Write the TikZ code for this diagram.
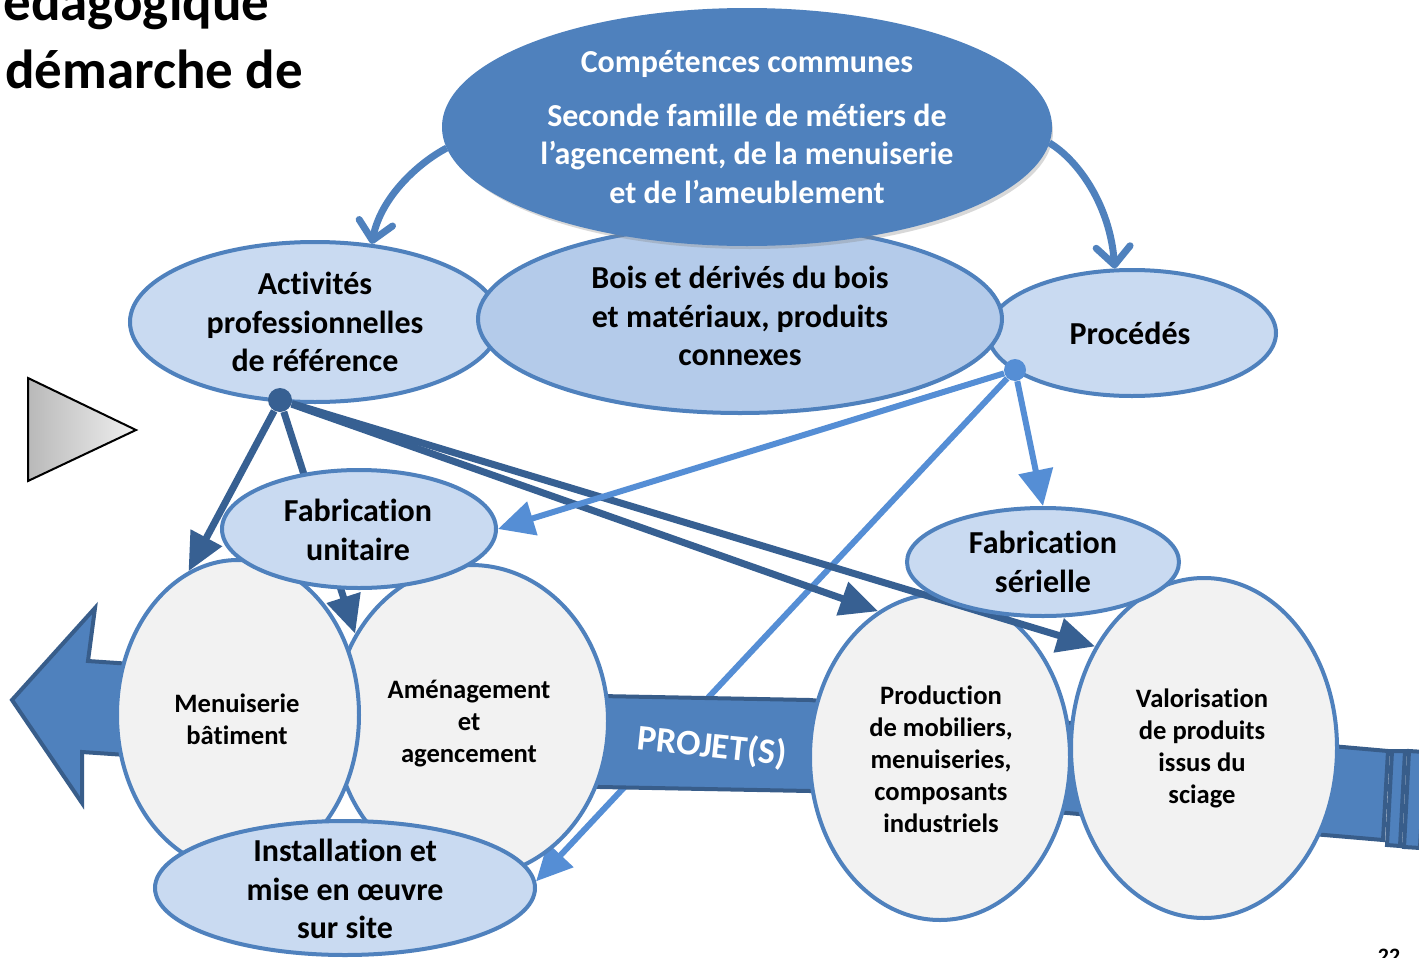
\documentclass[tikz,border=0pt]{standalone}
\usepackage{fontspec}
\setmainfont{Carlito}[Ligatures=NoCommon]
\usepackage{tikz}
\usetikzlibrary{arrows.meta,shapes.geometric,shadows}
\definecolor{AgcBlue}{HTML}{4F81BD}
\definecolor{AgcEdge}{HTML}{385D8A}
\definecolor{AgcDark}{HTML}{376092}
\definecolor{AgcLight}{HTML}{558ED5}
\definecolor{AgcPale}{HTML}{C9DAF1}
\definecolor{AgcMid}{HTML}{B4CBEA}
\definecolor{AgcGrey}{HTML}{F2F2F2}
\pgfdeclarelayer{bg}
\pgfsetlayers{bg,main}

\begin{document}
\begin{tikzpicture}[
      x=0.5pt,y=-0.5pt,
      >={Triangle[length=19pt,width=17pt]},
      coreell/.style={ellipse,draw=AgcBlue,fill=AgcBlue,line width=2pt,inner sep=0pt},
      paleell/.style={ellipse,draw=AgcBlue,fill=AgcPale,line width=2pt,inner sep=0pt},
      greyell/.style={ellipse,draw=AgcBlue,fill=AgcGrey,line width=2pt,inner sep=0pt},
      bigtxt/.style={font=\bfseries\fontsize{16}{19.3}\selectfont,align=center},
      smalltxt/.style={font=\bfseries\fontsize{13.3}{16}\selectfont,align=center},
      hub/.style={circle,inner sep=0pt,minimum size=11pt},
      darkarr/.style={->,line width=3.5pt,draw=AgcDark},
      lightarr/.style={-{Triangle[length=18pt,width=17pt]},line width=3pt,draw=AgcLight},
      bendarr/.style={-{Straight Barb[length=9pt,width=17pt,round]},line width=3.5pt,draw=AgcBlue},
      bandline/.style={fill=AgcBlue,draw=AgcEdge,line width=2pt}
    ]
    \begin{pgfonlayer}{bg}
      \fill[white] (0,0) rectangle (1419,958);
    \end{pgfonlayer}
    \path[use as bounding box] (0,0) rectangle (1419,958);

    \node[font=\bfseries\fontsize{27.5}{33}\selectfont,anchor=base west,inner sep=0pt]
      (title1) at (3,20) {édagogique};
    \node[font=\bfseries\fontsize{27.5}{33}\selectfont,anchor=base west,inner sep=0pt]
      (title2) at (5,88) {démarche de};
    \draw[line width=1pt,left color=gray!55,right color=gray!12]
      (28,378) -- (136,430) -- (28,481) -- cycle;

    \draw[bandline,line join=miter] (12,700) -- (95,608) -- (88,661) -- (600,696)
      -- (810,700) -- (1388,751) -- (1383,840) -- (810,791) -- (600,787)
      -- (82,752) -- (82,803) -- cycle;
    \draw[bandline] (1392,751) -- (1405,751) -- (1400,846) -- (1387,845) -- cycle;
    \draw[bandline] (1409,751) -- (1425,752) -- (1420,848) -- (1404,847) -- cycle;
    \node[rotate=-6,text=white,font=\bfseries\fontsize{18}{22}\selectfont]
      (projet) at (712,747) {PROJET(S)};

    \node[paleell,minimum width=185pt,minimum height=80pt] (act) at (315,322) {};
    \node[bigtxt] (actT) at (act) {Activités\\professionnelles\\de référence};
    \node[paleell,minimum width=144pt,minimum height=63pt] (proc) at (1132,333) {};
    \node[bigtxt] (procT) at (1130,333) {Procédés};
    \node[paleell,fill=AgcMid,minimum width=262pt,minimum height=94pt] (bois) at (740,319) {};
    \node[bigtxt] (boisT) at (740,316) {Bois et dérivés du bois\\et matériaux, produits\\connexes};
    \node[coreell,drop shadow={opacity=0.3,shadow xshift=1.5pt,shadow yshift=-2.5pt},
      minimum width=303pt,minimum height=117pt] (core) at (747,127) {};
    \node[bigtxt,text=white] (coreT) at (core)
      {Compétences communes\\[7.5pt]Seconde famille de métiers de\\l’agencement, de la menuiserie\\et de l’ameublement};

    \node[greyell,minimum width=137pt,minimum height=156pt] (amen) at (471,721) {};
    \node[smalltxt] (amenT) at (469,724) {Aménagement\\et\\agencement};
    \node[greyell,minimum width=121pt,minimum height=155pt] (menu) at (238,715) {};
    \node[smalltxt] (menuT) at (237,719) {Menuiserie\\bâtiment};
    \node[greyell,minimum width=130pt,minimum height=163pt] (prod) at (940,757) {};
    \node[smalltxt] (prodT) at (941,759) {Production\\de mobiliers,\\menuiseries,\\composants\\industriels};
    \node[greyell,minimum width=133pt,minimum height=170pt] (valo) at (1204,748) {};
    \node[smalltxt] (valoT) at (1202,748) {Valorisation\\de produits\\issus du\\sciage};

    \node[hub,fill=AgcDark,minimum size=12pt] (hubA) at (280,400) {};
    \node[hub,fill=AgcLight] (hubP) at (1015,370) {};

    \draw[darkarr] (hubA) -- (menu.109);
    \draw[darkarr] (hubA) -- (amen.143);
    \draw[darkarr] (hubA) -- (prod.113);
    \draw[darkarr] (hubA) -- (valo.137);

    \node[paleell,minimum width=137pt,minimum height=59pt] (fabu) at (359,529) {};
    \node[bigtxt] (fabuT) at (358,530) {Fabrication\\unitaire};
    \node[paleell,minimum width=136pt,minimum height=54pt] (fabs) at (1043,562) {};
    \node[bigtxt] (fabsT) at (fabs) {Fabrication\\sérielle};
    \node[paleell,minimum width=190pt,minimum height=67pt] (inst) at (345,888) {};
    \node[bigtxt] (instT) at (345,889) {Installation et\\mise en œuvre\\sur site};

    \draw[lightarr] (hubP) -- (fabu.east);
    \draw[lightarr] (hubP) -- (fabs.north);
    \begin{pgfonlayer}{bg}
      \draw[lightarr] (hubP) -- (inst.2);
    \end{pgfonlayer}

    \draw[bendarr] (core.184) .. controls (420,162) and (381,196) .. (act.54);
    \draw[bendarr] (core.357) .. controls (1078,160) and (1110,205) .. (proc.105);

    \node[font=\bfseries\fontsize{11}{13}\selectfont,anchor=base,inner sep=0pt]
      (pgno) at (1389,963) {22};
  \end{tikzpicture}
\end{document}
